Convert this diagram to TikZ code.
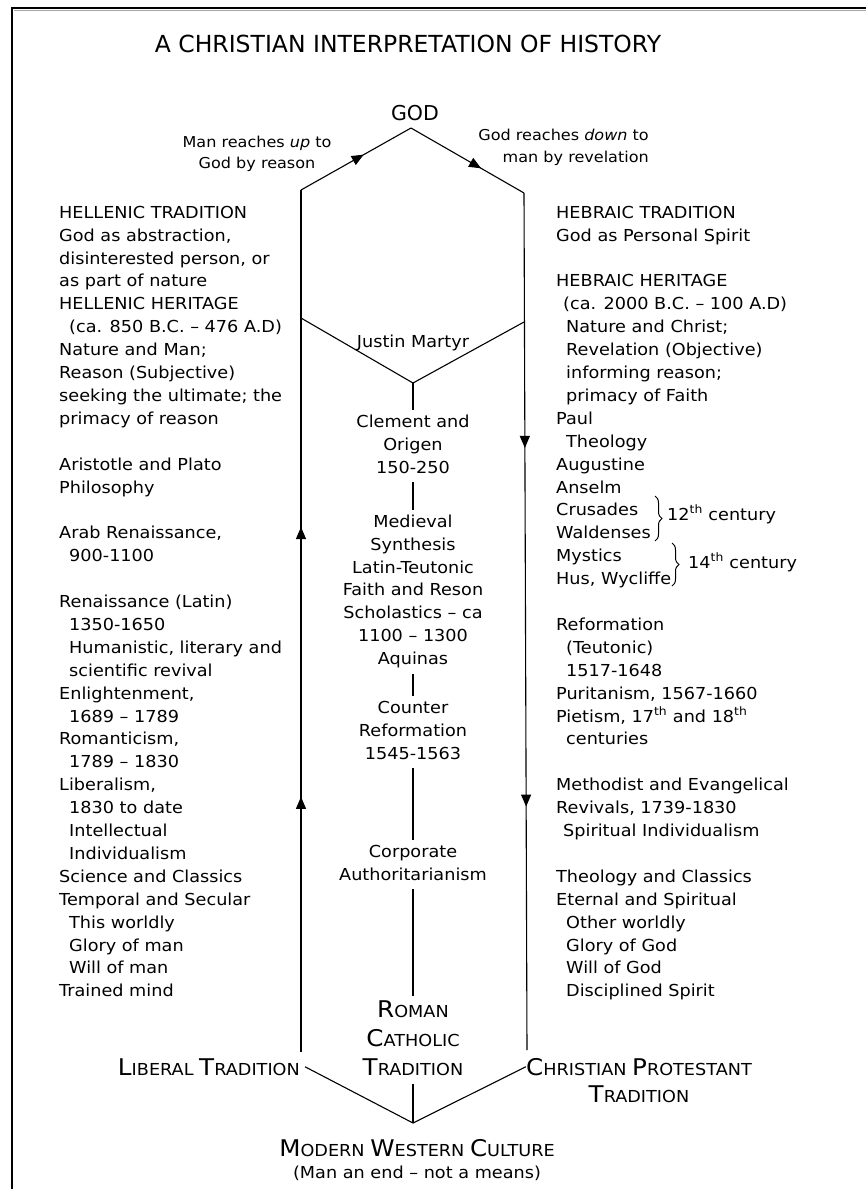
\documentclass[tikz,border=0pt]{standalone}
\usepackage{fontspec}
\setmainfont[FakeStretch=1.07]{DejaVu Sans}
\newfontfamily\plainfont{DejaVu Sans}
\usetikzlibrary{arrows.meta,decorations.markings,decorations.pathreplacing}
\newcommand{\topstrut}{\rule{0pt}{13pt}}
\newcommand{\botstrut}{\rule[-5pt]{0pt}{5pt}}
\newcommand{\smc}[2]{{\fontsize{23}{23}\selectfont #1}{\fontsize{16.5}{16.5}\selectfont #2}}
\newcommand{\ind}{\hspace*{10pt}}
\begin{document}
\begin{tikzpicture}[x=1pt,y=-1pt,
  every node/.style={inner sep=0pt, text=black, font=\fontsize{16.5}{22.9}\selectfont},
  body/.style={align=left, anchor=north west},
  mid/.style={align=center, anchor=north, inner ysep=4pt},
  ln/.style={line width=1.1pt, draw=black},
  arr1/.style={postaction={decorate}, decoration={markings,
     mark=at position #1 with {\arrow{Triangle[length=12pt,width=10pt]}}}},
  arr2/.style 2 args={postaction={decorate}, decoration={markings,
     mark=at position #1 with {\arrow{Triangle[length=12pt,width=10pt]}},
     mark=at position #2 with {\arrow{Triangle[length=12pt,width=10pt]}}}},
  brc/.style={decorate, decoration={brace, amplitude=7pt}, line width=1pt}
]
\fill[white] (0,0) rectangle (866,1189);
\useasboundingbox (0,0) rectangle (866,1189);
% frame
\draw[line width=2.5pt] (12,1189) -- (12,8) -- (866,8);
\draw[black!35, line width=0.8pt] (13.5,10.3) -- (866,10.3);

% title and GOD
\node[font=\plainfont\fontsize{23.5}{23.5}\selectfont, anchor=base] (title) at (408,52) {A CHRISTIAN INTERPRETATION OF HISTORY};
\node[font=\plainfont\fontsize{20.5}{20.5}\selectfont, anchor=base] (god) at (415,120) {GOD};
\node[font=\fontsize{15}{21}\selectfont, align=center, anchor=north] (up) at (257,135) {\rule{0pt}{12pt}Man reaches \textit{up} to\\God by reason};
\node[font=\fontsize{15}{22}\selectfont, align=right, anchor=north east] (down) at (649,128) {\rule{0pt}{12pt}God reaches \textit{down} to\\man by revelation};

% key points
\coordinate (apex) at (411,128);
\coordinate (tl) at (301,190);
\coordinate (tr) at (524,193);
\coordinate (jl) at (301,318);
\coordinate (jr) at (524,322);
\coordinate (jb) at (413,383);
\coordinate (lb) at (301,1052);
\coordinate (rb) at (527,1050);
\coordinate (bv) at (413,1123);

\draw[ln, arr1=0.57] (tl) -- (apex);
\draw[ln, arr1=0.62] (apex) -- (tr);
\draw[ln, arr2={0.296}{0.609}] (lb) -- (tl);
\draw[ln, arr2={0.2975}{0.716}] (tr) -- (rb);
\draw[ln] (jl) -- (jb) -- (jr);

% left column
\node[body] (hell) at (59,205) {\topstrut HELLENIC TRADITION\\
God as abstraction,\\
disinterested person, or\\
as part of nature\\
HELLENIC HERITAGE\\
\ind(ca. 850 B.C. – 476 A.D)\\
Nature and Man;\\
Reason (Subjective)\\
seeking the ultimate; the\\
primacy of reason\\[22.9pt]
Aristotle and Plato\\
Philosophy\\[22.9pt]
Arab Renaissance,\\
\ind 900-1100\\[22.9pt]
Renaissance (Latin)\\
\ind 1350-1650\\
\ind Humanistic, literary and\\
\ind scientific revival\\
Enlightenment,\\
\ind 1689 – 1789\\
Romanticism,\\
\ind 1789 – 1830\\
Liberalism,\\
\ind 1830 to date\\
\ind Intellectual\\
\ind Individualism\\
Science and Classics\\
Temporal and Secular\\
\ind This worldly\\
\ind Glory of man\\
\ind Will of man\\
Trained mind};

% right column
\node[body] (hebr) at (556,205) {\topstrut HEBRAIC TRADITION\\
God as Personal Spirit\\[22.9pt]
HEBRAIC HERITAGE\\
\hspace*{7pt}(ca. 2000 B.C. – 100 A.D)\\
\ind Nature and Christ;\\
\ind Revelation (Objective)\\
\ind informing reason;\\
\ind primacy of Faith\\
Paul\\
\ind Theology\\
Augustine\\
Anselm\\
Crusades\\
Waldenses\\
Mystics\\
Hus, Wycliffe\\[22.9pt]
Reformation\\
\ind (Teutonic)\\
\ind 1517-1648\\
Puritanism, 1567-1660\\
Pietism, 17\textsuperscript{th} and 18\textsuperscript{th}\\
\ind centuries\\[22.9pt]
Methodist and Evangelical\\
Revivals, 1739-1830\\
\hspace*{7pt}Spiritual Individualism\\[22.9pt]
Theology and Classics\\
Eternal and Spiritual\\
\ind Other worldly\\
\ind Glory of God\\
\ind Will of God\\
\ind Disciplined Spirit};

% braces
\coordinate (b1t) at (655,496);
\coordinate (b1b) at (655,541);
\coordinate (b2t) at (672,543);
\coordinate (b2b) at (672,586);
\draw[brc] (b1t) -- (b1b);
\draw[brc] (b2t) -- (b2b);
\node[anchor=base west] (c12) at (667,520) {12\textsuperscript{th} century};
\node[anchor=base west] (c14) at (688,568) {14\textsuperscript{th} century};

% centre column
\node[anchor=base] (jm) at (413,347) {Justin Martyr};
\node[mid] (co) at (413,410) {\topstrut Clement and\\Origen\\150-250\botstrut};
\node[mid] (ms) at (413,510) {\topstrut Medieval\\Synthesis\\Latin-Teutonic\\Faith and Reson\\Scholastics – ca\\1100 – 1300\\Aquinas\botstrut};
\node[mid] (cr) at (413,696) {\topstrut Counter\\Reformation\\1545-1563\botstrut};
\node[mid] (ca) at (413,840) {\topstrut Corporate\\Authoritarianism\botstrut};
\node[mid, font=\fontsize{16.5}{29}\selectfont] (rct) at (413,996) {\rule{0pt}{17pt}\smc{R}{OMAN}\\\smc{C}{ATHOLIC}\\\smc{T}{RADITION}\botstrut};

\draw[ln] (jb) -- (co.north);
\draw[ln] (co.south) -- (ms.north);
\draw[ln] (ms.south) -- (cr.north);
\draw[ln] (cr.south) -- (ca.north);
\draw[ln] (ca.south) -- (rct.north);
\draw[ln] (rct.south) -- (bv);

% bottom
\node[anchor=base east, inner xsep=5pt] (lib) at (305,1075) {\smc{L}{IBERAL} \smc{T}{RADITION}};
\node[align=center, anchor=north, font=\fontsize{16.5}{27}\selectfont] (cpt) at (639,1058) {\rule{0pt}{17pt}\smc{C}{HRISTIAN} \smc{P}{ROTESTANT}\\\smc{T}{RADITION}};
\draw[ln] (lib.east) -- (bv) -- (cpt.west |- lib.east);
\node[anchor=base] (mwc) at (417,1156) {\smc{M}{ODERN} \smc{W}{ESTERN} \smc{C}{ULTURE}};
\node[anchor=base] (mean) at (417,1178) {(Man an end – not a means)};
\end{tikzpicture}
\end{document}
